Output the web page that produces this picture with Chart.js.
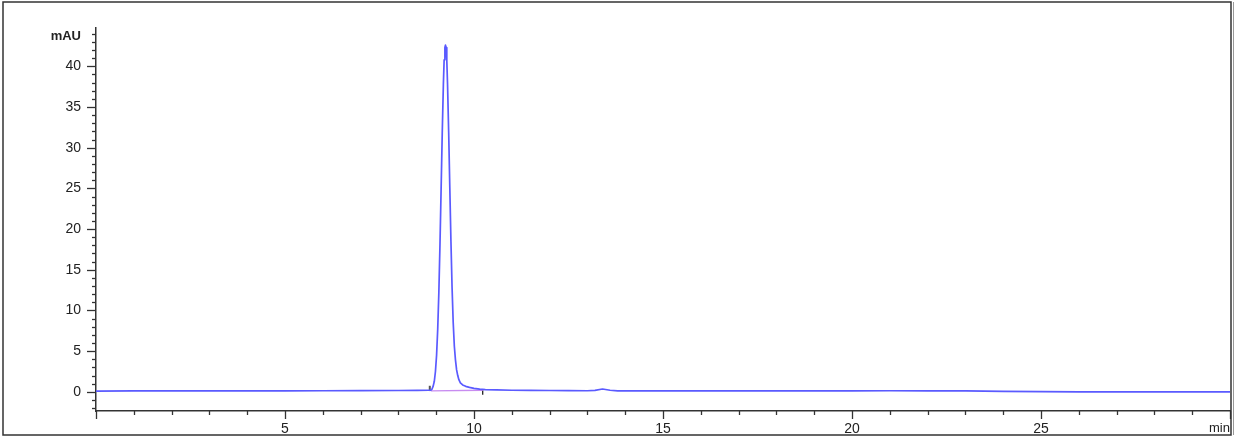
<!DOCTYPE html>
<html>
<head>
<meta charset="utf-8">
<script src="https://cdn.jsdelivr.net/npm/chart.js@4.4.0/dist/chart.umd.min.js"></script>
<style>
  html, body { margin: 0; padding: 0; background: #fff; }
  #wrap { width: 1240px; height: 437px; position: relative; }
</style>
</head>
<body>
<div id="wrap"><canvas id="chrom"></canvas></div>
<script>
// retention time (min) and detector signal (mAU)
const signalTime = [0, 1, 2, 3, 4, 5, 6, 7, 8, 8.5, 8.8, 8.86, 8.89, 8.92, 8.95, 8.98, 9.01, 9.04, 9.07, 9.10, 9.13, 9.16, 9.19, 9.21, 9.23, 9.245,
  9.26, 9.28, 9.30, 9.33, 9.36, 9.39, 9.42, 9.45, 9.48, 9.51, 9.54, 9.57, 9.60, 9.64, 9.70, 9.78, 9.88, 10.0, 10.15, 10.3,
  10.6, 11, 11.5, 12, 12.5, 13, 13.2, 13.4, 13.6, 13.8, 14.5, 15, 16, 17, 18, 19, 20, 21, 22, 23, 24, 25, 26, 27, 28, 29, 30];
const signalValue = [0.10, 0.11, 0.12, 0.12, 0.13, 0.12, 0.14, 0.15, 0.17, 0.18, 0.20, 0.22, 0.35, 0.7, 1.3, 2.5, 4.5, 7.7, 12.2, 18.1, 24.9, 31.8, 37.8, 40.8, 42.3, 42.6,
  42.3, 40.8, 37.8, 31.9, 25.1, 18.5, 12.8, 8.5, 5.6, 3.9, 2.7, 2.0, 1.5, 1.1, 0.85, 0.68, 0.55, 0.43, 0.34, 0.28,
  0.24, 0.20, 0.18, 0.17, 0.15, 0.14, 0.18, 0.35, 0.20, 0.13, 0.12, 0.12, 0.13, 0.13, 0.12, 0.12, 0.13, 0.14, 0.13, 0.12, 0.06, 0.02, 0.0, 0.0, -0.01, 0.0, 0.0];

// integration baseline and peak start / end marks
const baseTime = [8.86, 10.23];
const baseValue = [0.12, 0.2];
const startMarkTime = [8.83, 8.83];
const startMarkValue = [0.1, 0.75];
const endMarkTime = [10.23, 10.23];
const endMarkValue = [0.2, -0.35];

const xTickLabels = [5, 10, 15, 20, 25];
const yTickLabels = [0, 5, 10, 15, 20, 25, 30, 35, 40];

function pairs(xs, ys) {
  return xs.map((x, i) => ({ x: x, y: ys[i] }));
}

const tickMarks = {
  id: 'tickMarks',
  afterDraw(chart) {
    const ctx = chart.ctx;
    const xs = chart.scales.x, ys = chart.scales.y;
    ctx.save();
    ctx.strokeStyle = '#333';
    ctx.lineWidth = 1.3;
    xs.ticks.forEach(t => {
      const px = Math.round(xs.getPixelForValue(t.value)) + 0.5;
      const len = t.value % 5 === 0 ? 8 : 4;
      ctx.beginPath();
      ctx.moveTo(px, xs.top);
      ctx.lineTo(px, xs.top + len);
      ctx.stroke();
    });
    ys.ticks.forEach(t => {
      const py = Math.round(ys.getPixelForValue(t.value)) + 0.5;
      const len = t.value % 5 === 0 ? 9 : 4;
      ctx.beginPath();
      ctx.moveTo(ys.right, py);
      ctx.lineTo(ys.right - len, py);
      ctx.stroke();
    });

    // axis units
    ctx.fillStyle = '#222';
    ctx.font = 'bold 13px "Liberation Sans", Arial, sans-serif';
    ctx.textAlign = 'right';
    ctx.textBaseline = 'middle';
    ctx.fillText('mAU', 81, 36);
    ctx.save();
    ctx.beginPath();
    ctx.rect(0, 0, 1231, 437);
    ctx.clip();
    ctx.font = '13px "Liberation Sans", Arial, sans-serif';
    ctx.textAlign = 'left';
    ctx.fillText('min', 1209, 428);
    ctx.restore();

    // outer frame
    ctx.strokeStyle = '#333';
    ctx.lineWidth = 1.5;
    ctx.strokeRect(3, 2, 1228, 433);
    ctx.strokeStyle = '#999';
    ctx.lineWidth = 1;
    ctx.beginPath();
    ctx.moveTo(1233.5, 2);
    ctx.lineTo(1233.5, 435);
    ctx.stroke();
    ctx.restore();
  }
};

new Chart(document.getElementById('chrom'), {
  type: 'line',
  data: {
    datasets: [{
      data: pairs(signalTime, signalValue),
      borderColor: 'rgb(90, 90, 255)',
      borderWidth: 1.7,
      borderJoinStyle: 'round',
      pointRadius: 0,
      tension: 0
    }, {
      data: pairs(baseTime, baseValue),
      borderColor: 'rgb(200, 140, 240)',
      borderWidth: 1.3,
      pointRadius: 0
    }, {
      data: pairs(startMarkTime, startMarkValue),
      borderColor: '#555',
      borderWidth: 2,
      pointRadius: 0
    }, {
      data: pairs(endMarkTime, endMarkValue),
      borderColor: '#222',
      borderWidth: 1.3,
      pointRadius: 0
    }]
  },
  options: {
    responsive: true,
    maintainAspectRatio: false,
    animation: false,
    layout: { padding: { top: 28, right: 10, left: 0, bottom: 0 } },
    plugins: { legend: { display: false }, tooltip: { enabled: false } },
    scales: {
      x: {
        type: 'linear',
        min: 0,
        max: 30,
        afterFit(scale) { scale.height = 26; },
        grid: { display: false, drawTicks: false },
        border: { display: true, color: '#333', width: 1.5 },
        ticks: {
          stepSize: 1,
          autoSkip: false,
          maxRotation: 0,
          padding: 10,
          color: '#222',
          font: { family: '"Liberation Sans", Arial, sans-serif', size: 14 },
          callback: v => xTickLabels.includes(v) ? String(v) : ''
        }
      },
      y: {
        type: 'linear',
        min: -2.35,
        max: 44.7,
        afterFit(scale) { scale.width = 96; },
        grid: { display: false, drawTicks: false },
        border: { display: true, color: '#333', width: 1.5 },
        ticks: {
          stepSize: 1,
          autoSkip: false,
          includeBounds: false,
          padding: 15,
          color: '#222',
          font: { family: '"Liberation Sans", Arial, sans-serif', size: 14 },
          callback: v => yTickLabels.includes(v) ? String(v) : ''
        }
      }
    }
  },
  plugins: [tickMarks]
});
</script>
</body>
</html>
